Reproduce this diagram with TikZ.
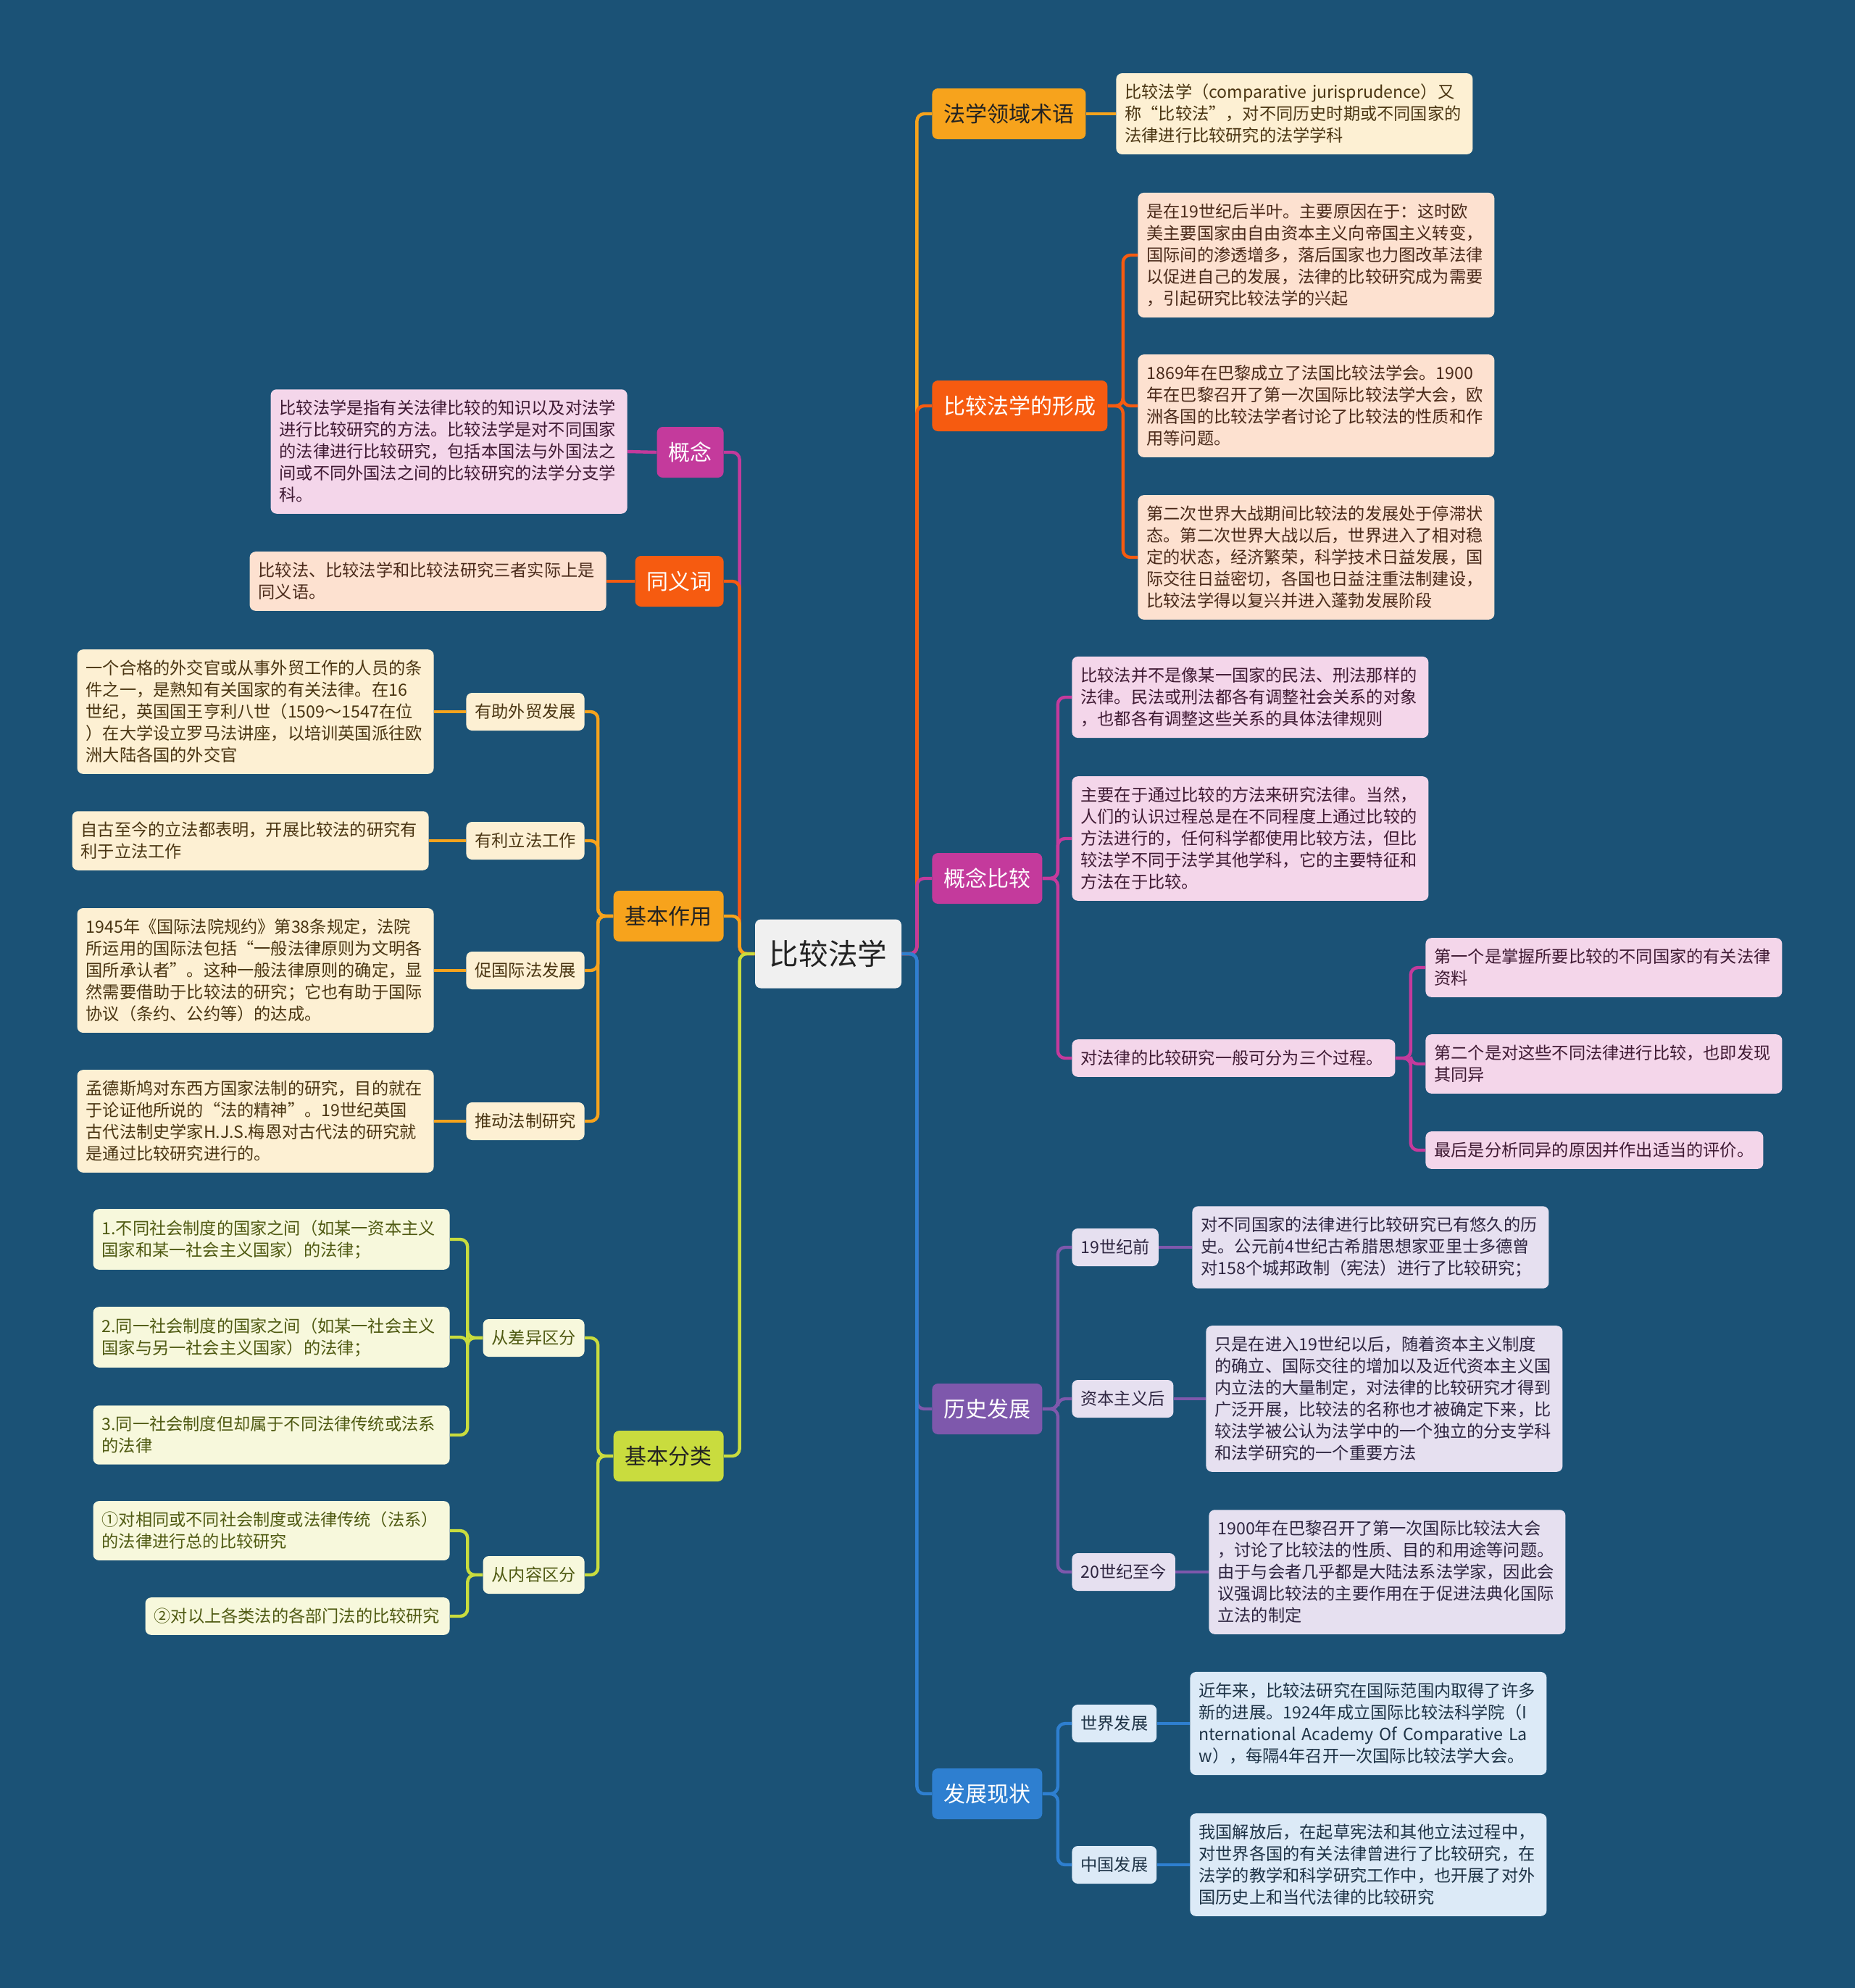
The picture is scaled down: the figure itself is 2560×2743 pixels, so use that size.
\documentclass[tikz,border=0pt]{standalone}
\usepackage{fontspec}
\setmainfont{Noto Sans CJK SC}
\usepackage{xcolor}
\usepackage{tikz}

\definecolor{cBg}{HTML}{1B5276}
\definecolor{cRoot}{HTML}{F0F0F0}
\definecolor{cInk}{HTML}{222222}
\definecolor{cAmber}{HTML}{F7A31C}
\definecolor{cFlame}{HTML}{F65B10}
\definecolor{cRose}{HTML}{C43A9C}
\definecolor{cViolet}{HTML}{7E58AC}
\definecolor{cSky}{HTML}{2E7FD0}
\definecolor{cLime}{HTML}{C9DC3E}
\definecolor{cAmberLt}{HTML}{FDF0D3}
\definecolor{cFlameLt}{HTML}{FDE1D0}
\definecolor{cRoseLt}{HTML}{F4D6EA}
\definecolor{cVioletLt}{HTML}{E6E0F0}
\definecolor{cSkyLt}{HTML}{DCEAF7}
\definecolor{cLimeLt}{HTML}{F7F8DC}
\definecolor{cAmberDk}{HTML}{4A3512}
\definecolor{cFlameDk}{HTML}{4A2A1A}
\definecolor{cRoseDk}{HTML}{3F1A33}
\definecolor{cVioletDk}{HTML}{2E2540}
\definecolor{cSkyDk}{HTML}{1E3346}
\definecolor{cLimeDk}{HTML}{4F5A12}

\newcommand{\leaffont}{\fontsize{11.6}{15}\selectfont}

\tikzset{
  root/.style={fill=cRoot, text=cInk, rounded corners=4pt,
    font=\fontsize{20.3}{24}\selectfont, minimum width=101pt, minimum height=47.5pt},
  branch/.style={fill=#1, text=white, rounded corners=4pt,
    font=\fontsize{15}{18}\selectfont, inner xsep=8pt, minimum height=35pt},
  sub/.style={rounded corners=4pt, font=\leaffont, inner xsep=6pt, minimum height=26pt},
  leaf/.style={rounded corners=4pt, font=\leaffont, align=left,
    text width=234pt, inner xsep=6pt, inner ysep=7.5pt},
  amberbox/.style={fill=cAmberLt, text=cAmberDk},
  flamebox/.style={fill=cFlameLt, text=cFlameDk},
  rosebox/.style={fill=cRoseLt, text=cRoseDk},
  violetbox/.style={fill=cVioletLt, text=cVioletDk},
  skybox/.style={fill=cSkyLt, text=cSkyDk},
  limebox/.style={fill=cLimeLt, text=cLimeDk},
  link/.style={draw=#1, line width=2.2pt, rounded corners=5pt},
  rgo/.style={to path={-- ++(10.5pt,0pt) |- (\tikztotarget)}},
  lgo/.style={to path={-- ++(-10.5pt,0pt) |- (\tikztotarget)}}
}

\begin{document}
\begin{tikzpicture}[x=0.5pt, y=-0.5pt]
  % Background
  \fill[cBg, use as bounding box] (0,0) rectangle (2560,2743);

  % Central topic
  \node[root] (cmp) at (1143,1316) {比较法学};

  % Right branches
  \node[branch=cAmber, text=cInk, anchor=west] (term) at (1286,157) {法学领域术语};
  \node[branch=cFlame, anchor=west] (origin) at (1286,560) {比较法学的形成};
  \node[branch=cRose, anchor=west] (notion) at (1286,1212) {概念比较};
  \node[branch=cViolet, anchor=west] (history) at (1286,1944) {历史发展};
  \node[branch=cSky, anchor=west] (status) at (1286,2475) {发展现状};

  % Left branches
  \node[branch=cRose, anchor=east] (concept) at (999,624) {概念};
  \node[branch=cFlame, anchor=east] (synonym) at (999,802) {同义词};
  \node[branch=cAmber, text=cInk, anchor=east] (role) at (999,1264) {基本作用};
  \node[branch=cLime, text=cInk, anchor=east] (kind) at (999,2009) {基本分类};

  % Term
  \node[leaf, amberbox, anchor=west] (term1) at (1540,157)
    {比较法学（comparative jurisprudence）又\\称“比较法”，对不同历史时期或不同国家的\\法律进行比较研究的法学学科};

  % Origin
  \node[leaf, flamebox, anchor=west] (origin1) at (1570,352)
    {是在19世纪后半叶。主要原因在于：这时欧\\美主要国家由自由资本主义向帝国主义转变，\\国际间的渗透增多，落后国家也力图改革法律\\以促进自己的发展，法律的比较研究成为需要\\，引起研究比较法学的兴起};
  \node[leaf, flamebox, anchor=west] (origin2) at (1570,560)
    {1869年在巴黎成立了法国比较法学会。1900\\年在巴黎召开了第一次国际比较法学大会，欧\\洲各国的比较法学者讨论了比较法的性质和作\\用等问题。};
  \node[leaf, flamebox, anchor=west] (origin3) at (1570,769)
    {第二次世界大战期间比较法的发展处于停滞状\\态。第二次世界大战以后，世界进入了相对稳\\定的状态，经济繁荣，科学技术日益发展，国\\际交往日益密切，各国也日益注重法制建设，\\比较法学得以复兴并进入蓬勃发展阶段};

  % Notion
  \node[leaf, rosebox, anchor=west] (notion1) at (1479,962)
    {比较法并不是像某一国家的民法、刑法那样的\\法律。民法或刑法都各有调整社会关系的对象\\，也都各有调整这些关系的具体法律规则};
  \node[leaf, rosebox, anchor=west] (notion2) at (1479,1157)
    {主要在于通过比较的方法来研究法律。当然，\\人们的认识过程总是在不同程度上通过比较的\\方法进行的，任何科学都使用比较方法，但比\\较法学不同于法学其他学科，它的主要特征和\\方法在于比较。};
  \node[leaf, rosebox, text width=211pt, anchor=west] (notion3) at (1479,1460)
    {对法律的比较研究一般可分为三个过程。};
  \node[leaf, rosebox, anchor=west] (proc1) at (1967,1335)
    {第一个是掌握所要比较的不同国家的有关法律\\资料};
  \node[leaf, rosebox, anchor=west] (proc2) at (1967,1468)
    {第二个是对这些不同法律进行比较，也即发现\\其同异};
  \node[leaf, rosebox, text width=221pt, anchor=west] (proc3) at (1967,1587)
    {最后是分析同异的原因并作出适当的评价。};

  % History
  \node[sub, violetbox, anchor=west] (h19) at (1479,1721) {19世纪前};
  \node[sub, violetbox, anchor=west] (hcap) at (1479,1930) {资本主义后};
  \node[sub, violetbox, anchor=west] (h20) at (1479,2169) {20世纪至今};
  \node[leaf, violetbox, anchor=west] (h19t) at (1645,1721)
    {对不同国家的法律进行比较研究已有悠久的历\\史。公元前4世纪古希腊思想家亚里士多德曾\\对158个城邦政制（宪法）进行了比较研究；};
  \node[leaf, violetbox, anchor=west] (hcapt) at (1664,1930)
    {只是在进入19世纪以后，随着资本主义制度\\的确立、国际交往的增加以及近代资本主义国\\内立法的大量制定，对法律的比较研究才得到\\广泛开展，比较法的名称也才被确定下来，比\\较法学被公认为法学中的一个独立的分支学科\\和法学研究的一个重要方法};
  \node[leaf, violetbox, anchor=west] (h20t) at (1668,2169)
    {1900年在巴黎召开了第一次国际比较法大会\\，讨论了比较法的性质、目的和用途等问题。\\由于与会者几乎都是大陆法系法学家，因此会\\议强调比较法的主要作用在于促进法典化国际\\立法的制定};

  % Status
  \node[sub, skybox, anchor=west] (world) at (1479,2378) {世界发展};
  \node[sub, skybox, anchor=west] (china) at (1479,2573) {中国发展};
  \node[leaf, skybox, anchor=west] (worldt) at (1642,2378)
    {近年来，比较法研究在国际范围内取得了许多\\新的进展。1924年成立国际比较法科学院（I\\\mbox{nternational Academy Of Comparative La}\\w），每隔4年召开一次国际比较法学大会。};
  \node[leaf, skybox, anchor=west] (chinat) at (1642,2573)
    {我国解放后，在起草宪法和其他立法过程中，\\对世界各国的有关法律曾进行了比较研究，在\\法学的教学和科学研究工作中，也开展了对外\\国历史上和当代法律的比较研究};

  % Concept and synonym
  \node[leaf, rosebox, anchor=east] (concept1) at (866,623)
    {比较法学是指有关法律比较的知识以及对法学\\进行比较研究的方法。比较法学是对不同国家\\的法律进行比较研究，包括本国法与外国法之\\间或不同外国法之间的比较研究的法学分支学\\科。};
  \node[leaf, flamebox, anchor=east] (synonym1) at (837,802)
    {比较法、比较法学和比较法研究三者实际上是\\同义语。};

  % Role
  \node[sub, amberbox, anchor=east] (trade) at (807,982) {有助外贸发展};
  \node[sub, amberbox, anchor=east] (legis) at (807,1160) {有利立法工作};
  \node[sub, amberbox, anchor=east] (intl) at (807,1339) {促国际法发展};
  \node[sub, amberbox, anchor=east] (rule) at (807,1547) {推动法制研究};
  \node[leaf, amberbox, anchor=east] (tradet) at (599,982)
    {一个合格的外交官或从事外贸工作的人员的条\\件之一，是熟知有关国家的有关法律。在16\\世纪，英国国王亨利八世（1509～1547在位\\）在大学设立罗马法讲座，以培训英国派往欧\\洲大陆各国的外交官};
  \node[leaf, amberbox, anchor=east] (legist) at (592,1160)
    {自古至今的立法都表明，开展比较法的研究有\\利于立法工作};
  \node[leaf, amberbox, anchor=east] (intlt) at (599,1339)
    {1945年《国际法院规约》第38条规定，法院\\所运用的国际法包括“一般法律原则为文明各\\国所承认者”。这种一般法律原则的确定，显\\然需要借助于比较法的研究；它也有助于国际\\协议（条约、公约等）的达成。};
  \node[leaf, amberbox, anchor=east] (rulet) at (599,1547)
    {孟德斯鸠对东西方国家法制的研究，目的就在\\于论证他所说的“法的精神”。19世纪英国\\古代法制史学家H.J.S.梅恩对古代法的研究就\\是通过比较研究进行的。};

  % Kind
  \node[sub, limebox, anchor=east] (diff) at (807,1846) {从差异区分};
  \node[sub, limebox, anchor=east] (cont) at (807,2173) {从内容区分};
  \node[leaf, limebox, anchor=east] (diff1) at (621,1710)
    {1.不同社会制度的国家之间（如某一资本主义\\国家和某一社会主义国家）的法律；};
  \node[leaf, limebox, anchor=east] (diff2) at (621,1845)
    {2.同一社会制度的国家之间（如某一社会主义\\国家与另一社会主义国家）的法律；};
  \node[leaf, limebox, anchor=east] (diff3) at (621,1980)
    {3.同一社会制度但却属于不同法律传统或法系\\的法律};
  \node[leaf, limebox, anchor=east] (cont1) at (621,2112)
    {①对相同或不同社会制度或法律传统（法系）\\的法律进行总的比较研究};
  \node[leaf, limebox, text width=198pt, anchor=east] (cont2) at (621,2230)
    {②对以上各类法的各部门法的比较研究};

  % Links, right side
  \draw[link=cAmber] (cmp.east) to[rgo] (term.west);
  \draw[link=cFlame] (cmp.east) to[rgo] (origin.west);
  \draw[link=cRose] (cmp.east) to[rgo] (notion.west);
  \draw[link=cViolet] (cmp.east) to[rgo] (history.west);
  \draw[link=cSky] (cmp.east) to[rgo] (status.west);

  \draw[link=cAmber] (term.east) -- (term1.west);
  \foreach \k in {1,2,3}
    \draw[link=cFlame] (origin.east) to[rgo] (origin\k.west);
  \foreach \k in {1,2,3}
    \draw[link=cRose] (notion.east) to[rgo] (notion\k.west);
  \foreach \k in {1,2,3}
    \draw[link=cRose] (notion3.east) to[rgo] (proc\k.west);
  \foreach \k in {h19,hcap,h20} {
    \draw[link=cViolet] (history.east) to[rgo] (\k.west);
    \draw[link=cViolet] (\k.east) -- (\k t.west);
  }
  \foreach \k in {world,china} {
    \draw[link=cSky] (status.east) to[rgo] (\k.west);
    \draw[link=cSky] (\k.east) -- (\k t.west);
  }

  % Links, left side
  \draw[link=cRose] (cmp.west) to[lgo] (concept.east);
  \draw[link=cFlame] (cmp.west) to[lgo] (synonym.east);
  \draw[link=cAmber] (cmp.west) to[lgo] (role.east);
  \draw[link=cLime] (cmp.west) to[lgo] (kind.east);

  \draw[link=cRose] (concept.west) -- (concept1.east);
  \draw[link=cFlame] (synonym.west) -- (synonym1.east);
  \foreach \k in {trade,legis,intl,rule} {
    \draw[link=cAmber] (role.west) to[lgo] (\k.east);
    \draw[link=cAmber] (\k.west) -- (\k t.east);
  }
  \foreach \k in {diff,cont}
    \draw[link=cLime] (kind.west) to[lgo] (\k.east);
  \foreach \k in {1,2,3}
    \draw[link=cLime] (diff.west) to[lgo] (diff\k.east);
  \foreach \k in {1,2}
    \draw[link=cLime] (cont.west) to[lgo] (cont\k.east);
\end{tikzpicture}
\end{document}
